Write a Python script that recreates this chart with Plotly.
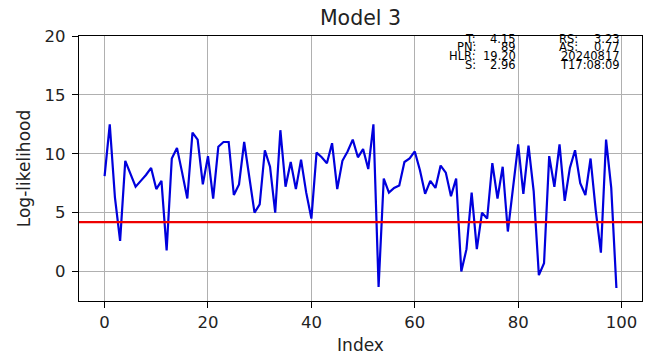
import plotly.graph_objects as go

# ---- data ----
index = list(range(100))
log_likelihood = [
    8.1, 12.5, 6.3, 2.6, 9.4, 8.3, 7.2, 7.7, 8.2, 8.8,
    7.0, 7.7, 1.8, 9.6, 10.5, 8.4, 6.2, 11.8, 11.2, 7.4,
    9.8, 6.2, 10.6, 11.0, 11.0, 6.5, 7.4, 11.0, 7.8, 5.0,
    5.7, 10.3, 8.9, 5.0, 12.0, 7.2, 9.3, 7.0, 9.5, 6.7,
    4.5, 10.1, 9.7, 9.2, 10.9, 7.0, 9.4, 10.2, 11.2, 9.7,
    10.4, 8.7, 12.5, -1.3, 7.9, 6.7, 7.1, 7.3, 9.3, 9.6,
    10.2, 8.6, 6.6, 7.7, 7.1, 9.0, 8.4, 6.4, 7.9, 0.0,
    1.9, 6.7, 1.9, 5.0, 4.5, 9.2, 6.2, 8.9, 3.4, 7.1,
    10.8, 6.6, 10.7, 6.8, -0.3, 0.7, 9.8, 7.2, 10.8, 6.0,
    8.8, 10.3, 7.5, 6.5, 9.6, 5.2, 1.6, 11.2, 7.1, -1.4,
]
threshold = 4.2

x_ticks = [0, 20, 40, 60, 80, 100]
y_ticks = [0, 5, 10, 15, 20]

stat_labels_left = ["T:", "PN:", "HLR:", "S:"]
stat_values_left = ["4.15", "89", "19.20", "2.96"]
stat_labels_right = ["RS:", "AS:", "", ""]
stat_values_right = ["3.23", "0.77", "20240817", "T17:08:09"]

# ---- layout geometry (page pixels; the page body has an 8px margin) ----
OFF = 8
W, H = 651 - OFF, 356 - OFF
L, R, T, B = 79 - OFF, 642 - OFF, 36 - OFF, 301 - OFF

def px_x(p):
    return (p - OFF - L) / (R - L)

def px_y(p):
    return (B - (p - OFF)) / (B - T)

FONT = "DejaVu Sans"

fig = go.Figure()
fig.add_trace(go.Scatter(
    x=index, y=log_likelihood, mode="lines",
    line=dict(color="#0000dd", width=2.2),
    showlegend=False, hoverinfo="skip",
))

fig.add_shape(type="line", xref="paper", x0=0, x1=1, yref="y",
              y0=threshold, y1=threshold,
              line=dict(color="#ee0000", width=2.2), layer="above")

axis_common = dict(
    automargin=False,
    showline=True, mirror=True, linecolor="black", linewidth=1.3,
    ticks="outside", ticklen=6, tickwidth=1.3, tickcolor="black",
    showgrid=True, gridcolor="#b0b0b0", gridwidth=1.2,
    zeroline=False,
    tickfont=dict(family=FONT, size=16.5, color="#222222"),
)

fig.update_layout(
    width=W, height=H,
    margin=dict(l=L, r=W - R, t=T, b=H - B, pad=0, autoexpand=False),
    paper_bgcolor="white", plot_bgcolor="white",
    title=dict(text="Model 3", x=0.5, xref="paper", xanchor="center",
               y=1 - (18 - OFF) / H, yref="container", yanchor="middle",
               font=dict(family=FONT, size=20.5, color="#222222")),
    xaxis=dict(range=[-4.95, 103.95], tickvals=x_ticks,
               title=dict(text="Index", standoff=8,
                          font=dict(family=FONT, size=17, color="#222222")),
               **axis_common),
    yaxis=dict(range=[-2.5, 20], tickvals=y_ticks, ticklabelstandoff=3,
               title=dict(text="Log-likelihood", standoff=9,
                          font=dict(family=FONT, size=17, color="#222222")),
               **axis_common),
)

row_y = [38.5, 47.2, 55.9, 64.6]
for i in range(4):
    yy = px_y(row_y[i])
    fig.add_annotation(text=stat_labels_left[i], xref="paper", yref="paper",
                       x=px_x(477), y=yy, xanchor="right", yanchor="middle",
                       showarrow=False, borderpad=0,
                       font=dict(family=FONT, size=11.5, color="black"))
    fig.add_annotation(text=stat_values_left[i], xref="paper", yref="paper",
                       x=px_x(517), y=yy, xanchor="right", yanchor="middle",
                       showarrow=False, borderpad=0,
                       font=dict(family=FONT, size=11.5, color="black"))
    if stat_labels_right[i]:
        fig.add_annotation(text=stat_labels_right[i], xref="paper", yref="paper",
                           x=px_x(558), y=yy, xanchor="left", yanchor="middle",
                           showarrow=False, borderpad=0,
                           font=dict(family=FONT, size=11.5, color="black"))
    fig.add_annotation(text=stat_values_right[i], xref="paper", yref="paper",
                       x=px_x(621), y=yy, xanchor="right", yanchor="middle",
                       showarrow=False, borderpad=0,
                       font=dict(family=FONT, size=11.5, color="black"))

fig.write_html("out.html")
